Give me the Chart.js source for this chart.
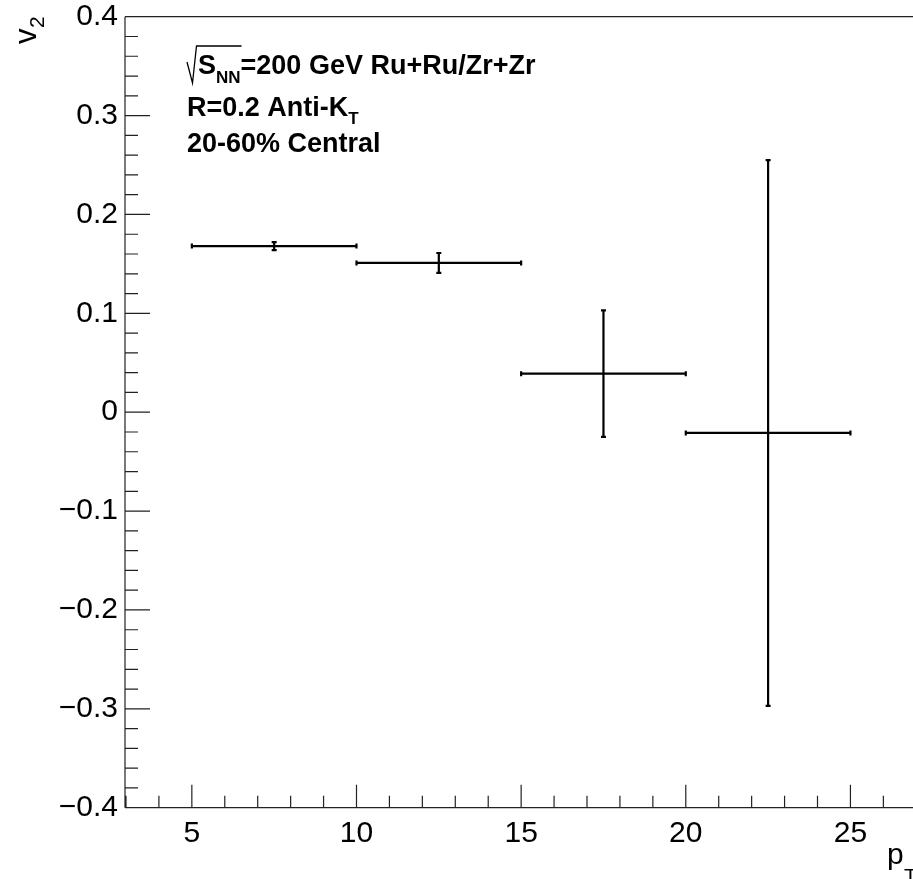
<!DOCTYPE html>
<html>
<head>
<meta charset="utf-8">
<script src="https://cdn.jsdelivr.net/npm/chart.js@4.4.1/dist/chart.umd.min.js"></script>
<style>
  html, body { margin: 0; padding: 0; background: #fff; }
  #wrap { width: 913px; height: 879px; }
</style>
</head>
<body>
<div id="wrap"><canvas id="v2chart" width="913" height="879"></canvas></div>
<script>
// jet pT bins and v2 with stat errors
var binLow  = [5, 10, 15, 20];
var binHigh = [10, 15, 20, 25];
var v2      = [0.168, 0.151, 0.039, -0.021];
var v2Err   = [0.004, 0.010, 0.064, 0.276];

var xTicks = [5, 10, 15, 20, 25];
var yTicks = [-0.4, -0.3, -0.2, -0.1, 0, 0.1, 0.2, 0.3, 0.4];

var FONT = "'Liberation Sans', Arial, Helvetica, sans-serif";

var points = binLow.map(function (lo, i) {
  return { x: (lo + binHigh[i]) / 2, y: v2[i] };
});

// ROOT style frame: ticks pointing inward, top line, no right side
var frame = {
  id: 'frame',
  beforeDatasetsDraw: function (chart) {
    var c = chart.ctx, a = chart.chartArea;
    var xs = chart.scales.x, ys = chart.scales.y;
    c.save();
    c.strokeStyle = '#222';
    c.lineWidth = 1.2;
    c.beginPath();
    c.moveTo(a.left, a.top); c.lineTo(a.right + 2, a.top);
    c.moveTo(a.left, a.top); c.lineTo(a.left, a.bottom);
    c.moveTo(a.left, a.bottom); c.lineTo(a.right + 2, a.bottom);
    // x ticks, minor every 1
    for (var x = Math.ceil(xs.min); x <= xs.max; x++) {
      var px = xs.getPixelForValue(x);
      var len = (x % 5 === 0) ? 23 : 12;
      c.moveTo(px, a.bottom); c.lineTo(px, a.bottom - len);
    }
    // y ticks, minor every 0.02
    for (var k = -20; k <= 20; k++) {
      var py = ys.getPixelForValue(k * 0.02);
      var l = (k % 5 === 0) ? 25 : 13;
      c.moveTo(a.left, py); c.lineTo(a.left + l, py);
    }
    c.stroke();
    c.restore();
  },
  afterDatasetsDraw: function (chart) {
    var c = chart.ctx;
    var xs = chart.scales.x, ys = chart.scales.y;
    c.save();
    c.strokeStyle = '#000';
    c.lineWidth = 2.2;
    c.beginPath();
    for (var i = 0; i < v2.length; i++) {
      var x0 = xs.getPixelForValue(binLow[i]);
      var x1 = xs.getPixelForValue(binHigh[i]);
      var xc = xs.getPixelForValue((binLow[i] + binHigh[i]) / 2);
      var yc = ys.getPixelForValue(v2[i]);
      var yt = ys.getPixelForValue(v2[i] + v2Err[i]);
      var yb = ys.getPixelForValue(v2[i] - v2Err[i]);
      c.moveTo(x0, yc); c.lineTo(x1, yc);
      c.moveTo(xc, yt); c.lineTo(xc, yb);
      // end caps
      c.moveTo(x0, yc - 2.5); c.lineTo(x0, yc + 2.5);
      c.moveTo(x1, yc - 2.5); c.lineTo(x1, yc + 2.5);
      c.moveTo(xc - 2.5, yt); c.lineTo(xc + 2.5, yt);
      c.moveTo(xc - 2.5, yb); c.lineTo(xc + 2.5, yb);
    }
    c.stroke();
    c.restore();
  },
  afterDraw: function (chart) {
    var c = chart.ctx;
    c.save();
    c.fillStyle = '#000';
    c.textBaseline = 'alphabetic';
    c.textAlign = 'left';

    // axis titles
    c.font = '30px ' + FONT;
    c.fillText('p', 887, 864);
    c.font = '21px ' + FONT;
    c.fillText('T', 904, 883);

    c.save();
    c.translate(36, 44);
    c.rotate(-Math.PI / 2);
    c.font = '31px ' + FONT;
    c.fillText('v', 0, 0);
    c.font = '21px ' + FONT;
    c.fillText('2', 16, 8);
    c.restore();

    // labels
    var x0 = 198;
    c.font = 'bold 27px ' + FONT;
    c.fillText('S', x0, 74);
    var w = c.measureText('S').width;
    c.font = 'bold 17px ' + FONT;
    c.fillText('NN', x0 + w, 83);
    var w2 = c.measureText('NN').width;
    c.font = 'bold 27px ' + FONT;
    c.fillText('=200 GeV Ru+Ru/Zr+Zr', x0 + w + w2, 74);
    // radical sign
    c.strokeStyle = '#000';
    c.lineWidth = 1.3;
    c.beginPath();
    c.moveTo(187, 62);
    c.lineTo(192.5, 83);
    c.lineTo(196.5, 46);
    c.lineTo(x0 + w + w2 + 1, 46);
    c.stroke();

    c.font = 'bold 27px ' + FONT;
    c.fillText('R=0.2 Anti-K', 187, 116);
    var wk = c.measureText('R=0.2 Anti-K').width;
    c.font = 'bold 17px ' + FONT;
    c.fillText('T', 187 + wk, 124);

    c.font = 'bold 27px ' + FONT;
    c.fillText('20-60% Central', 187, 152);
    c.restore();
  }
};

new Chart(document.getElementById('v2chart'), {
  type: 'scatter',
  data: {
    datasets: [{
      data: points,
      pointRadius: 0,
      pointHoverRadius: 0,
      showLine: false
    }]
  },
  options: {
    responsive: false,
    animation: false,
    events: [],
    layout: { padding: { top: 16.7, right: 0, left: 0, bottom: 0 } },
    plugins: { legend: { display: false }, tooltip: { enabled: false } },
    scales: {
      x: {
        type: 'linear',
        min: 2.97,
        max: 26.9,
        grid: { display: false, drawTicks: false },
        border: { display: false },
        afterBuildTicks: function (s) { s.ticks = xTicks.map(function (v) { return { value: v }; }); },
        afterFit: function (s) { s.height = 71.3; s.paddingLeft = 0; s.paddingRight = 0; },
        ticks: {
          maxRotation: 0,
          autoSkip: false,
          padding: 8,
          color: '#000',
          font: { family: FONT, size: 30 }
        }
      },
      y: {
        type: 'linear',
        min: -0.4,
        max: 0.4,
        grid: { display: false, drawTicks: false },
        border: { display: false },
        afterBuildTicks: function (s) { s.ticks = yTicks.map(function (v) { return { value: v }; }); },
        afterFit: function (s) { s.width = 125; s.paddingTop = 0; s.paddingBottom = 0; },
        ticks: {
          autoSkip: false,
          padding: 7,
          color: '#000',
          font: { family: FONT, size: 30 },
          callback: function (v) {
            if (Math.abs(v) < 1e-9) return '0';
            return v.toFixed(1).replace('-', '\u2212');
          }
        }
      }
    }
  },
  plugins: [frame]
});
</script>
</body>
</html>
